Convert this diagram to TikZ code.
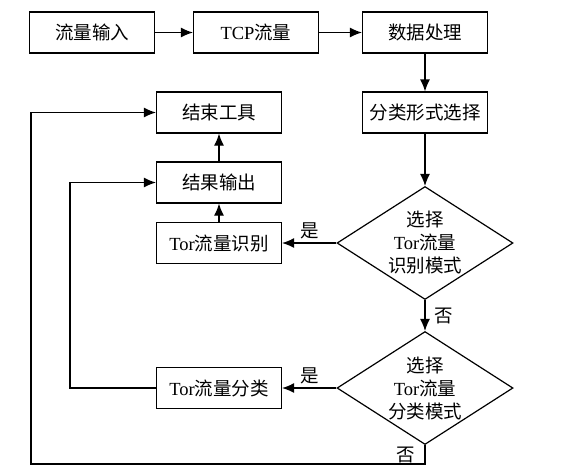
\documentclass[tikz,border=0pt]{standalone}
\usepackage{fontspec}
\setmainfont{Liberation Serif}
\newfontfamily\cjk{Noto Sans CJK SC}
\usetikzlibrary{arrows.meta}
\usetikzlibrary{shapes.geometric}
\newcommand\zh[1]{{\cjk #1}}

\begin{document}
\begin{tikzpicture}[x=1pt,y=-1pt,line width=1.2pt,>={Latex[length=12pt,width=10pt]},font=\fontsize{18.5}{23}\selectfont]%
        \useasboundingbox (0,0) rectangle (561,475);%%
        \begin{scope}[shape=rectangle,inner sep=0pt,minimum width=125pt,minimum height=41pt]
        \tikzstyle{every node}=[draw] %%
        \node (inp) at (92,32.5)  {\zh{流量输入}}; %%
        \node (tcp) at (256,32.5)  {TCP\zh{流量}}; %%
        \node (proc) at (425,32.5)  {\zh{数据处理}}; %%
        \node (sel) at (425,112.5)  {\zh{分类形式选择}}; %%
        \node (endt) at (219,112.5)  {\zh{结束工具}}; %%
        \node (outp) at (219,182.5)  {\zh{结果输出}}; %%
        \node (recg) at (219,243)  {Tor\zh{流量识别}}; %%
        \node (clsf) at (219,388)  {Tor\zh{流量分类}}; %%
        \end{scope}
        \begin{scope}[shape=diamond,shape aspect=1.56,inner sep=0pt,minimum width=176pt,minimum height=113pt]
        \tikzstyle{every node}=[draw,align=center] %%
        \node (d1) at (425,243)  {\zh{选择}\\Tor\zh{流量}\\\zh{识别模式}}; %%
        \node (d2) at (425,388)  {\zh{选择}\\Tor\zh{流量}\\\zh{分类模式}}; %%
        \end{scope}
        \coordinate (lo) at (31,464); %%
        \coordinate (li) at (70,388); %%
        \draw[->] (inp)--(tcp);  %%
        \draw[->] (tcp)--(proc);  %%
        \draw[->] (proc)--(sel);  %%
        \draw[->] (sel)--(d1);  %%
        \draw[->] (d1.west)--(recg.east) node[midway,above] (y1) {\zh{是}};  %%
        \draw[->] (d1)--(d2) node[midway,right=6pt] (n1) {\zh{否}};  %%
        \draw[->] (d2.west)--(clsf.east) node[midway,above] (y2) {\zh{是}};  %%
        \draw[->] (recg)--(outp);  %%
        \draw[->] (outp)--(endt);  %%
        \draw[->] (clsf.west)--(li)|-(outp.west);  %%
        \draw[->] (d2.south)|-(lo) node[pos=.25,left=6pt] (n2) {\zh{否}} |-(endt.west);  %%
\end{tikzpicture}
\end{document}
